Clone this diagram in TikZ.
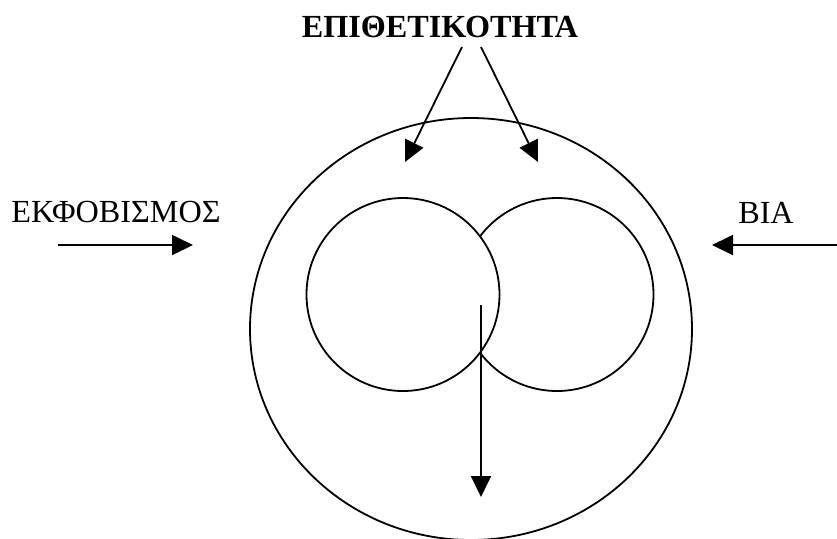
\documentclass[tikz,border=0pt]{standalone}
\usepackage{fontspec}
\setmainfont{Liberation Serif}
\usetikzlibrary{arrows.meta, shapes.geometric, positioning}

\begin{document}
\begin{tikzpicture}[
    x=0.5pt, y=-0.5pt,
    word/.style={
        anchor=base, inner sep=0pt,
        font=\fontsize{16.1}{19}\selectfont
    },
    ring/.style={
        circle, draw=black, line width=0.9pt,
        minimum size=96.5pt, inner sep=0pt
    },
    arrow/.style={-{Triangle[length=10.5pt,width=10pt]}, line width=0.9pt}
]

\useasboundingbox (0,0) rectangle (837,538);

% outer and inner circles
\node[ellipse, draw=black, line width=0.9pt, inner sep=0pt,
      minimum width=221pt, minimum height=211pt] (outer) at (471,329) {};
\node[ring] (rightc) at (557,294.5) {};
\node[ring, fill=white] (leftc) at (403,294.5) {};

% labels
\node[word, font=\fontsize{16.1}{19}\selectfont\bfseries] (aggr) at (440,37) {ΕΠΙΘΕΤΙΚΟΤΗΤΑ};
\node[word] (intim) at (116,222) {ΕΚΦΟΒΙΣΜΟΣ};
\node[word] (viol) at (766,223) {ΒΙΑ};

% arrow ends
\coordinate (aggrL) at (462,47);
\coordinate (aggrR) at (481,47);
\coordinate (tipL) at (405,162);
\coordinate (tipR) at (538,162);
\coordinate (intimS) at (58,245);
\coordinate (intimE) at (193,245);
\coordinate (violS) at (837,245);
\coordinate (violE) at (712,245);
\coordinate (downS) at (481,305);
\coordinate (downE) at (481,497);

\draw[arrow] (aggrL) -- (tipL);
\draw[arrow] (aggrR) -- (tipR);
\draw[arrow] (intimS) -- (intimE);
\draw[arrow] (violS) -- (violE);
\draw[arrow] (downS) -- (downE);

\end{tikzpicture}
\end{document}
